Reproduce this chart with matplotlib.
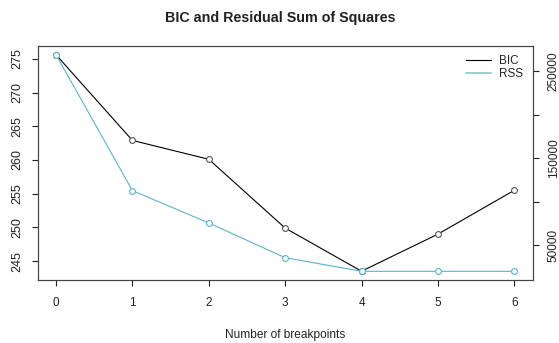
import matplotlib

matplotlib.use("Agg")
import matplotlib.pyplot as plt

plt.rcParams["font.family"] = ["Liberation Sans", "DejaVu Sans"]

breakpoints = [0, 1, 2, 3, 4, 5, 6]
bic = [275.6, 262.9, 260.1, 249.9, 243.5, 249.0, 255.5]
rss = [269300, 112700, 75400, 35400, 19700, 19700, 19700]
bic_ticks = [245, 250, 255, 260, 265, 270, 275]
rss_ticks = [50000, 100000, 150000, 200000, 250000]
rss_labels = ["50000", "", "150000", "", "250000"]

INK = "#222222"
TEAL = "#5ab3c9"

fig = plt.figure(figsize=(5.59, 3.43), dpi=100)
ax = fig.add_axes([0.0674, 0.1837, 0.8854, 0.6822])

ax.plot(breakpoints, bic, color="black", linewidth=0.8, marker="o",
        markersize=4.2, markerfacecolor="white", markeredgecolor="#555555",
        markeredgewidth=0.8, label="BIC")
ax.set_xlim(-0.24, 6.24)
ax.set_ylim(242.2, 276.9)
ax.set_xticks(breakpoints)
ax.set_yticks(bic_ticks)
ax.tick_params(axis="y", labelrotation=90, labelsize=9, colors=INK,
               length=4, pad=6)
ax.tick_params(axis="x", labelsize=8.5, colors=INK, length=4, pad=8)
for lbl in ax.get_yticklabels():
    lbl.set_va("center")
ax.set_xlabel("Number of breakpoints", fontsize=8.6, color=INK, labelpad=15)
ax.set_title("BIC and Residual Sum of Squares", fontsize=10.3,
             fontweight="bold", color=INK, pad=17, x=0.49)

ax2 = ax.twinx()
ax2.plot(breakpoints, rss, color=TEAL, linewidth=0.8, marker="o",
         markersize=4.2, markerfacecolor="white", markeredgecolor=TEAL,
         markeredgewidth=0.8, label="RSS")
ax2.set_ylim(9700, 279300)
ax2.set_yticks(rss_ticks)
ax2.set_yticklabels(rss_labels)
ax2.tick_params(axis="y", labelrotation=90, labelsize=8.5, colors=INK,
                length=4, pad=7)
for lbl in ax2.get_yticklabels():
    lbl.set_va("center")

for a in (ax, ax2):
    for s in a.spines.values():
        s.set_color("#444444")
        s.set_linewidth(0.8)

h1, l1 = ax.get_legend_handles_labels()
h2, l2 = ax2.get_legend_handles_labels()
leg = ax2.legend(
    [plt.Line2D([], [], color="black", lw=0.8),
     plt.Line2D([], [], color="#8cc6c8", lw=1.2)],
    l1 + l2, loc="upper right", frameon=False, fontsize=8.5,
    handlelength=2.1, handletextpad=0.7, labelspacing=0.05,
    borderaxespad=0.6, borderpad=0.2)
for t in leg.get_texts():
    t.set_color(INK)

fig.savefig("out.png", dpi=100)
